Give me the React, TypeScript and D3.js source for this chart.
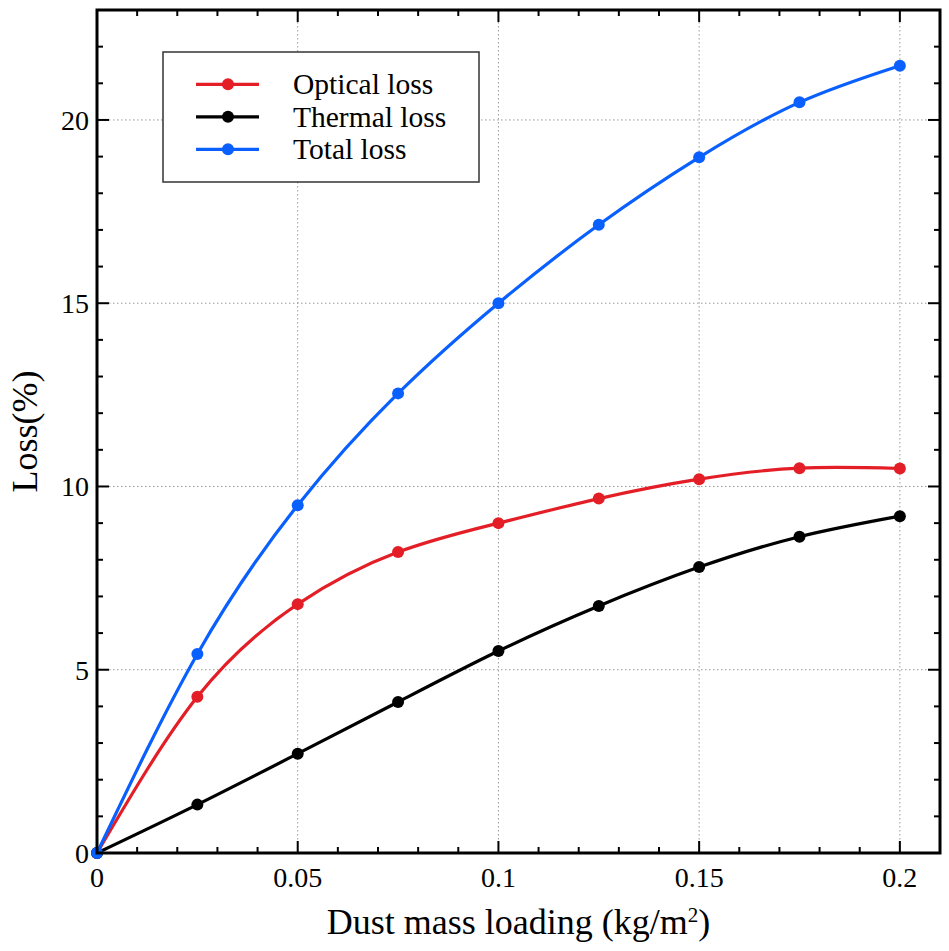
import React from "react";
import * as d3 from "d3";

const xValues = [0, 0.025, 0.05, 0.075, 0.1, 0.125, 0.15, 0.175, 0.2];
const opticalLoss = [0, 4.26, 6.79, 8.21, 9.0, 9.67, 10.2, 10.5, 10.49];
const thermalLoss = [0, 1.32, 2.71, 4.12, 5.51, 6.74, 7.8, 8.63, 9.19];
const totalLoss = [0, 5.43, 9.49, 12.54, 15.0, 17.14, 18.98, 20.48, 21.48];
const seriesNames = ["Optical loss", "Thermal loss", "Total loss"];
const seriesColors = ["#e41e26", "#000000", "#0a60ff"];
const xTickLabels = ["0", "0.05", "0.1", "0.15", "0.2"];
const yTickLabels = ["0", "5", "10", "15", "20"];

const W = 949;
const H = 951;
const L = 97, R = 940, T = 10, B = 853;
const FONT = "'Liberation Serif', 'Times New Roman', Times, serif";

export default function App() {
  const x = d3.scaleLinear().domain([0, 0.21]).range([L, R]);
  const y = d3.scaleLinear().domain([0, 23]).range([B, T]);
  const series = [opticalLoss, thermalLoss, totalLoss];
  const line = d3
    .line<[number, number]>()
    .x((d) => x(d[0]))
    .y((d) => y(d[1]))
    .curve(d3.curveNatural);

  const xMinor = d3.range(0, 22).map((i) => i / 100);
  const yMinor = d3.range(0, 24);
  const xMajor = xTickLabels.map(Number);
  const yMajor = yTickLabels.map(Number);

  const majorLen = 12;
  const minorLen = 6;

  return (
    <svg
      width={W}
      height={H}
      style={{ position: "absolute", left: 0, top: 0, background: "#fff", fontFamily: FONT }}
    >
      <rect x={0} y={0} width={W} height={H} fill="#fff" />
      {xMajor.filter((v) => v > 0).map((v) => (
        <line key={"gx" + v} x1={x(v)} x2={x(v)} y1={T} y2={B} stroke="#9a9a9a" strokeWidth={1} strokeDasharray="1.5,2.5" />
      ))}
      {yMajor.filter((v) => v > 0).map((v) => (
        <line key={"gy" + v} x1={L} x2={R} y1={y(v)} y2={y(v)} stroke="#9a9a9a" strokeWidth={1} strokeDasharray="1.5,2.5" />
      ))}
      {xMinor.map((v, i) => {
        const len = i % 5 === 0 ? majorLen : minorLen;
        return (
          <g key={"tx" + i}>
            <line x1={x(v)} x2={x(v)} y1={B} y2={B - len} stroke="#000" strokeWidth={2} />
            <line x1={x(v)} x2={x(v)} y1={T} y2={T + len} stroke="#000" strokeWidth={2} />
          </g>
        );
      })}
      {yMinor.map((v, i) => {
        const len = i % 5 === 0 ? majorLen : minorLen;
        return (
          <g key={"ty" + i}>
            <line x1={L} x2={L + len} y1={y(v)} y2={y(v)} stroke="#000" strokeWidth={2} />
            <line x1={R} x2={R - len} y1={y(v)} y2={y(v)} stroke="#000" strokeWidth={2} />
          </g>
        );
      })}
      {series.map((s, si) => (
        <g key={"s" + si}>
          <path
            d={line(xValues.map((xv, i) => [xv, s[i]] as [number, number])) || ""}
            fill="none"
            stroke={seriesColors[si]}
            strokeWidth={3.2}
          />
          {xValues.map((xv, i) => (
            <circle key={i} cx={x(xv)} cy={y(s[i])} r={6} fill={seriesColors[si]} />
          ))}
        </g>
      ))}
      <rect x={L} y={T} width={R - L} height={B - T} fill="none" stroke="#000" strokeWidth={3} />
      {xTickLabels.map((t) => (
        <text key={"xl" + t} x={x(Number(t))} y={887} textAnchor="middle" fontSize={28} fill="#000" fontFamily={FONT}>
          {t}
        </text>
      ))}
      {yTickLabels.map((t) => (
        <text key={"yl" + t} x={89} y={y(Number(t)) + 10} textAnchor="end" fontSize={28} fill="#000" fontFamily={FONT}>
          {t}
        </text>
      ))}
      <text x={(L + R) / 2} y={934} textAnchor="middle" fontSize={36} fill="#000" fontFamily={FONT}>
        Dust mass loading (kg/m
        <tspan baselineShift="super" fontSize={21}>2</tspan>)
      </text>
      <text
        transform={`translate(37, ${(T + B) / 2}) rotate(-90)`}
        textAnchor="middle"
        fontSize={36}
        fill="#000"
        fontFamily={FONT}
      >
        Loss(%)
      </text>
      <rect x={163} y={52} width={316} height={130} fill="#fff" stroke="#333" strokeWidth={1.5} />
      {seriesNames.map((n, i) => {
        const cy = 84.3 + i * 32.5;
        return (
          <g key={"lg" + i}>
            <line x1={196} x2={259} y1={cy} y2={cy} stroke={seriesColors[i]} strokeWidth={3.2} />
            <circle cx={228} cy={cy} r={6} fill={seriesColors[i]} />
            <text x={293} y={cy + 10} fontSize={29.5} fill="#000" fontFamily={FONT}>
              {n}
            </text>
          </g>
        );
      })}
    </svg>
  );
}
